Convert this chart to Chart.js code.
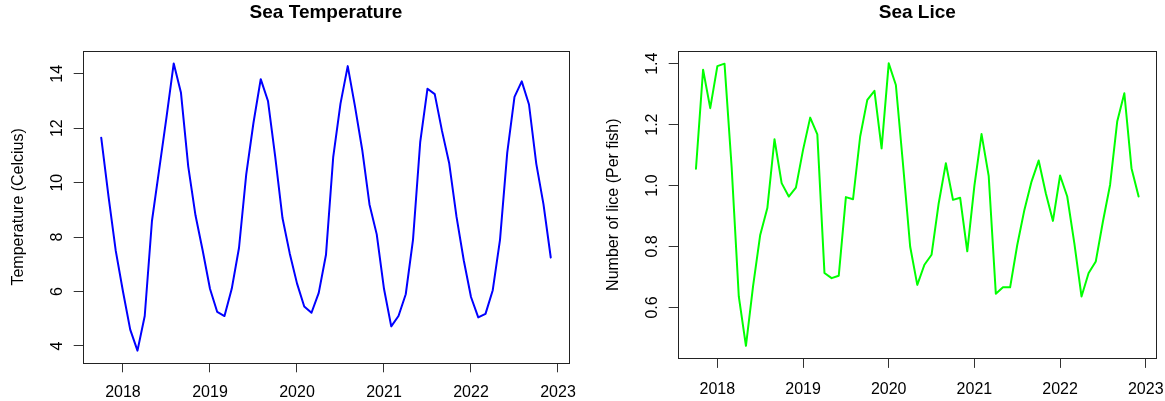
<!DOCTYPE html>
<html>
<head>
<meta charset="utf-8">
<script src="https://cdn.jsdelivr.net/npm/chart.js@4.4.1/dist/chart.umd.min.js"></script>
<style>
  body { margin: 0; background: #fff; width: 1165px; height: 401px; overflow: hidden; position: relative; }
  canvas { position: absolute; top: 0; }
  #temp { left: 0; }
  #lice { left: 583px; }
</style>
</head>
<body>
<canvas id="temp" width="583" height="401"></canvas>
<canvas id="lice" width="582" height="401"></canvas>
<script>
// monthly series, first value is Oct 2017
const startYear = 2017.75;
const yearTicks = [2018, 2019, 2020, 2021, 2022, 2023];
const tempTicks = [4, 6, 8, 10, 12, 14];
const liceTicks = [0.6, 0.8, 1.0, 1.2, 1.4];

const seaTemp = [
  11.65, 9.5, 7.5,
  6.0, 4.6, 3.83, 5.1, 8.6, 10.5, 12.4, 14.38, 13.3, 10.6, 8.8, 7.5,
  6.1, 5.25, 5.1, 6.1, 7.6, 10.3, 12.2, 13.8, 13.0, 10.95, 8.7, 7.4,
  6.3, 5.45, 5.22, 5.95, 7.35, 10.95, 12.9, 14.28, 12.8, 11.2, 9.2, 8.1,
  6.1, 4.72, 5.1, 5.9, 7.9, 11.5, 13.45, 13.25, 11.9, 10.7, 8.75, 7.15,
  5.8, 5.05, 5.18, 6.05, 7.9, 11.1, 13.15, 13.72, 12.87, 10.7, 9.2, 7.25
];

const seaLice = [
  1.055, 1.38, 1.254,
  1.392, 1.40, 1.06, 0.636, 0.474, 0.67, 0.838, 0.926, 1.152, 1.008, 0.964, 0.993,
  1.117, 1.223, 1.168, 0.713, 0.696, 0.704, 0.962, 0.955, 1.161, 1.281, 1.311, 1.122,
  1.401, 1.33, 1.07, 0.80, 0.674, 0.74, 0.773, 0.942, 1.073, 0.953, 0.96, 0.784,
  1.0, 1.169, 1.032, 0.645, 0.666, 0.666, 0.805, 0.92, 1.013, 1.082, 0.975, 0.884,
  1.033, 0.964, 0.81, 0.636, 0.713, 0.751, 0.882, 1.002, 1.21, 1.303, 1.057, 0.964
];

Chart.defaults.font.family = "'Liberation Sans', Arial, sans-serif";
Chart.defaults.color = '#000';

function monthly(values) {
  return values.map((v, i) => ({ x: startYear + i / 12, y: v }));
}

// R style box round the plot region
const boxPlugin = {
  id: 'box',
  afterDraw(chart) {
    const { ctx, chartArea: a } = chart;
    ctx.save();
    ctx.strokeStyle = '#222';
    ctx.lineWidth = 1;
    ctx.strokeRect(Math.round(a.left) + 0.5, Math.round(a.top) + 0.5,
      Math.round(a.right) - Math.round(a.left), Math.round(a.bottom) - Math.round(a.top));
    ctx.restore();
  }
};

function drawPanel(canvas, p) {
  return new Chart(canvas, {
    type: 'line',
    data: {
      datasets: [{
        data: monthly(p.values),
        borderColor: p.color,
        borderWidth: 2,
        pointRadius: 0,
        tension: 0,
        borderJoinStyle: 'round',
        borderCapStyle: 'round'
      }]
    },
    options: {
      responsive: false,
      animation: false,
      layout: { padding: { left: 0, right: p.padRight, top: 0, bottom: 0 } },
      plugins: {
        legend: { display: false },
        tooltip: { enabled: false },
        title: {
          display: true,
          text: p.title,
          fullSize: false,
          color: '#000',
          font: { size: 19, weight: 'bold' },
          padding: { top: 1.5, bottom: 26.7 }
        }
      },
      scales: {
        x: {
          type: 'linear',
          min: 2017.544,
          max: 2023.123,
          afterBuildTicks: s => { s.ticks = yearTicks.map(v => ({ value: v })); },
          afterFit: s => { s.height = p.xHeight; s.paddingLeft = 0; s.paddingRight = 0; },
          border: { display: false },
          grid: { drawOnChartArea: false, drawTicks: true, tickLength: 9.6, color: '#333' },
          ticks: {
            font: { size: 16 },
            padding: p.xTickPad,
            maxRotation: 0,
            autoSkip: false,
            callback: v => String(v)
          }
        },
        y: {
          min: p.yMin,
          max: p.yMax,
          afterBuildTicks: s => { s.ticks = p.yTicks.map(v => ({ value: v })); },
          afterFit: s => { s.width = p.yWidth; s.paddingTop = 0; s.paddingBottom = 0; },
          border: { display: false },
          grid: { drawOnChartArea: false, drawTicks: true, tickLength: 9.6, color: '#333' },
          ticks: {
            font: { size: 16 },
            padding: p.yTickPad,
            minRotation: 90,
            maxRotation: 90,
            crossAlign: 'center',
            autoSkip: false,
            callback: v => v.toFixed(p.decimals)
          },
          title: {
            display: true,
            text: p.yTitle,
            color: '#000',
            font: { size: 16 },
            padding: { top: p.yTitlePad, bottom: 0 }
          }
        }
      }
    },
    plugins: [boxPlugin]
  });
}

drawPanel(document.getElementById('temp'), {
  values: seaTemp, color: '#0000ff',
  title: 'Sea Temperature', yTitle: 'Temperature (Celcius)',
  yTicks: tempTicks, yMin: 3.386, yMax: 14.835, decimals: 0,
  yWidth: 83.3, xHeight: 38.3, padRight: 14.3,
  yTickPad: 7.5, yTitlePad: 9.2, xTickPad: 10.3
});

drawPanel(document.getElementById('lice'), {
  values: seaLice, color: '#00ff00',
  title: 'Sea Lice', yTitle: 'Number of lice (Per fish)',
  yTicks: liceTicks, yMin: 0.433, yMax: 1.4416, decimals: 1,
  yWidth: 95.3, xHeight: 42.7, padRight: 8.7,
  yTickPad: 5.3, yTitlePad: 21.2, xTickPad: 11.7
});
</script>
</body>
</html>
